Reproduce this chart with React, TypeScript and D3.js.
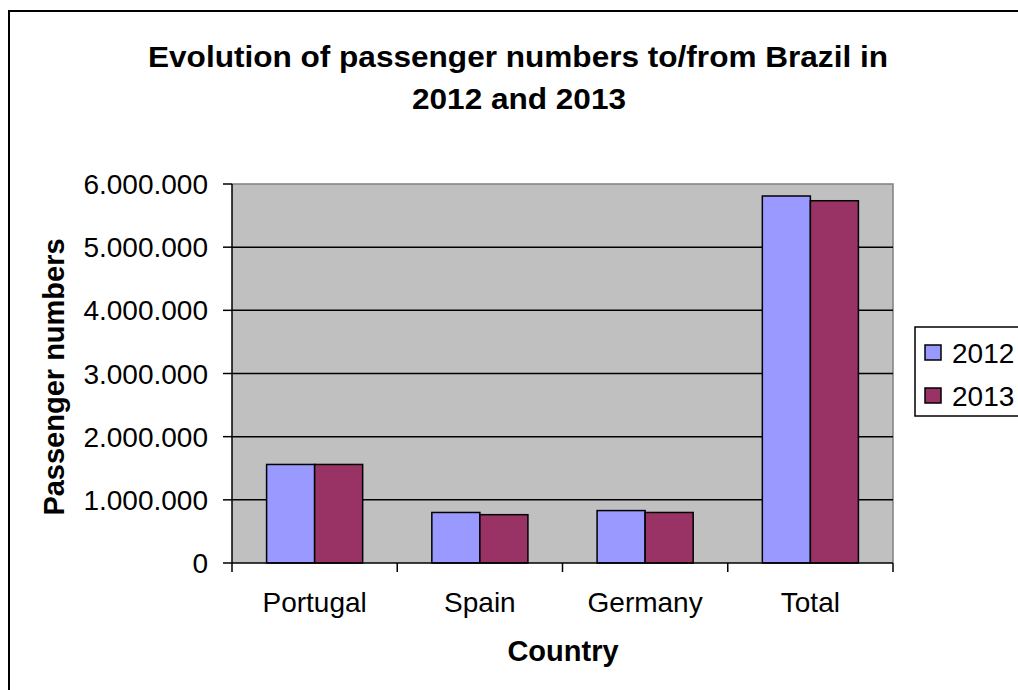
import React from "react";
import * as d3 from "d3";

const categories = ["Portugal", "Spain", "Germany", "Total"];
const seriesNames = ["2012", "2013"];
const values2012 = [1560000, 800000, 830000, 5810000];
const values2013 = [1560000, 765000, 800000, 5735000];
const yTicks = [0, 1000000, 2000000, 3000000, 4000000, 5000000, 6000000];
const colors = ["#9999FF", "#993366"];

const W = 1018;
const H = 690;
const plot = { left: 232, right: 893, top: 184, bottom: 563 };
const FONT = "'Liberation Sans', Arial, sans-serif";

export default function App() {
  const x0 = d3.scaleBand<string>().domain(categories).range([plot.left, plot.right]).paddingInner(0).paddingOuter(0);
  const x1 = d3.scaleBand<string>().domain(seriesNames).range([0, x0.bandwidth()]).paddingInner(0).paddingOuter(0.72);
  const y = d3.scaleLinear().domain([0, 6000000]).range([plot.bottom, plot.top]);
  const locale = d3.formatLocale({ decimal: ",", thousands: ".", grouping: [3], currency: ["", ""] });
  const fmt = locale.format(",d");
  const allSeries = [values2012, values2013];
  const catTicks = [...categories.map((c) => x0(c) as number), plot.right];

  return (
    <svg width={W} height={H} style={{ position: "absolute", left: 0, top: 0 }} fontFamily={FONT}>
      <rect x={0} y={0} width={W} height={H} fill="#fff" />
      <rect x={9} y={11} width={W + 20} height={H + 20} fill="none" stroke="#000" strokeWidth={2} />
      <text x={518} y={67} textAnchor="middle" fontSize={30} fontWeight="bold" textLength={740} lengthAdjust="spacingAndGlyphs">
        Evolution of passenger numbers to/from Brazil in
      </text>
      <text x={519} y={109} textAnchor="middle" fontSize={30} fontWeight="bold" textLength={214} lengthAdjust="spacingAndGlyphs">
        2012 and 2013
      </text>

      <rect x={plot.left} y={plot.top} width={plot.right - plot.left} height={plot.bottom - plot.top} fill="#C0C0C0" />
      <path d={`M${plot.left},${plot.top}H${plot.right}V${plot.bottom}`} fill="none" stroke="#808080" strokeWidth={1.5} />

      {yTicks.filter((t) => t > 0 && t < 6000000).map((t) => (
        <line key={t} x1={plot.left} x2={plot.right} y1={y(t)} y2={y(t)} stroke="#000" strokeWidth={1.5} />
      ))}

      {categories.map((c, ci) =>
        seriesNames.map((s, si) => {
          const v = allSeries[si][ci];
          const bx = (x0(c) as number) + (x1(s) as number);
          return (
            <rect key={c + s} x={bx} y={y(v)} width={x1.bandwidth()} height={y(0) - y(v)} fill={colors[si]} stroke="#000" strokeWidth={1.5} />
          );
        })
      )}

      <line x1={plot.left} x2={plot.left} y1={plot.top} y2={plot.bottom} stroke="#000" strokeWidth={1.5} />
      <line x1={plot.left} x2={plot.right} y1={plot.bottom} y2={plot.bottom} stroke="#000" strokeWidth={1.5} />

      {yTicks.map((t) => (
        <g key={t}>
          <line x1={plot.left - 9} x2={plot.left} y1={y(t)} y2={y(t)} stroke="#000" strokeWidth={1.5} />
          <text x={208} y={y(t) + 10} textAnchor="end" fontSize={28}>
            {fmt(t)}
          </text>
        </g>
      ))}

      {catTicks.map((tx, i) => (
        <line key={i} x1={tx} x2={tx} y1={plot.bottom} y2={plot.bottom + 9} stroke="#000" strokeWidth={1.5} />
      ))}
      {categories.map((c) => (
        <text key={c} x={(x0(c) as number) + x0.bandwidth() / 2} y={612} textAnchor="middle" fontSize={28}>
          {c}
        </text>
      ))}

      <text x={563} y={661} textAnchor="middle" fontSize={29} fontWeight="bold">
        Country
      </text>
      <text transform={`translate(64,377) rotate(-90)`} textAnchor="middle" fontSize={29} fontWeight="bold">
        Passenger numbers
      </text>

      <rect x={915} y={327} width={120} height={89} fill="#fff" stroke="#000" strokeWidth={1.5} />
      {seriesNames.map((s, i) => (
        <g key={s}>
          <rect x={925} y={345 + i * 43} width={16} height={15} fill={colors[i]} stroke="#000" strokeWidth={1.5} />
          <text x={952} y={363 + i * 43} fontSize={28}>
            {s}
          </text>
        </g>
      ))}
    </svg>
  );
}
